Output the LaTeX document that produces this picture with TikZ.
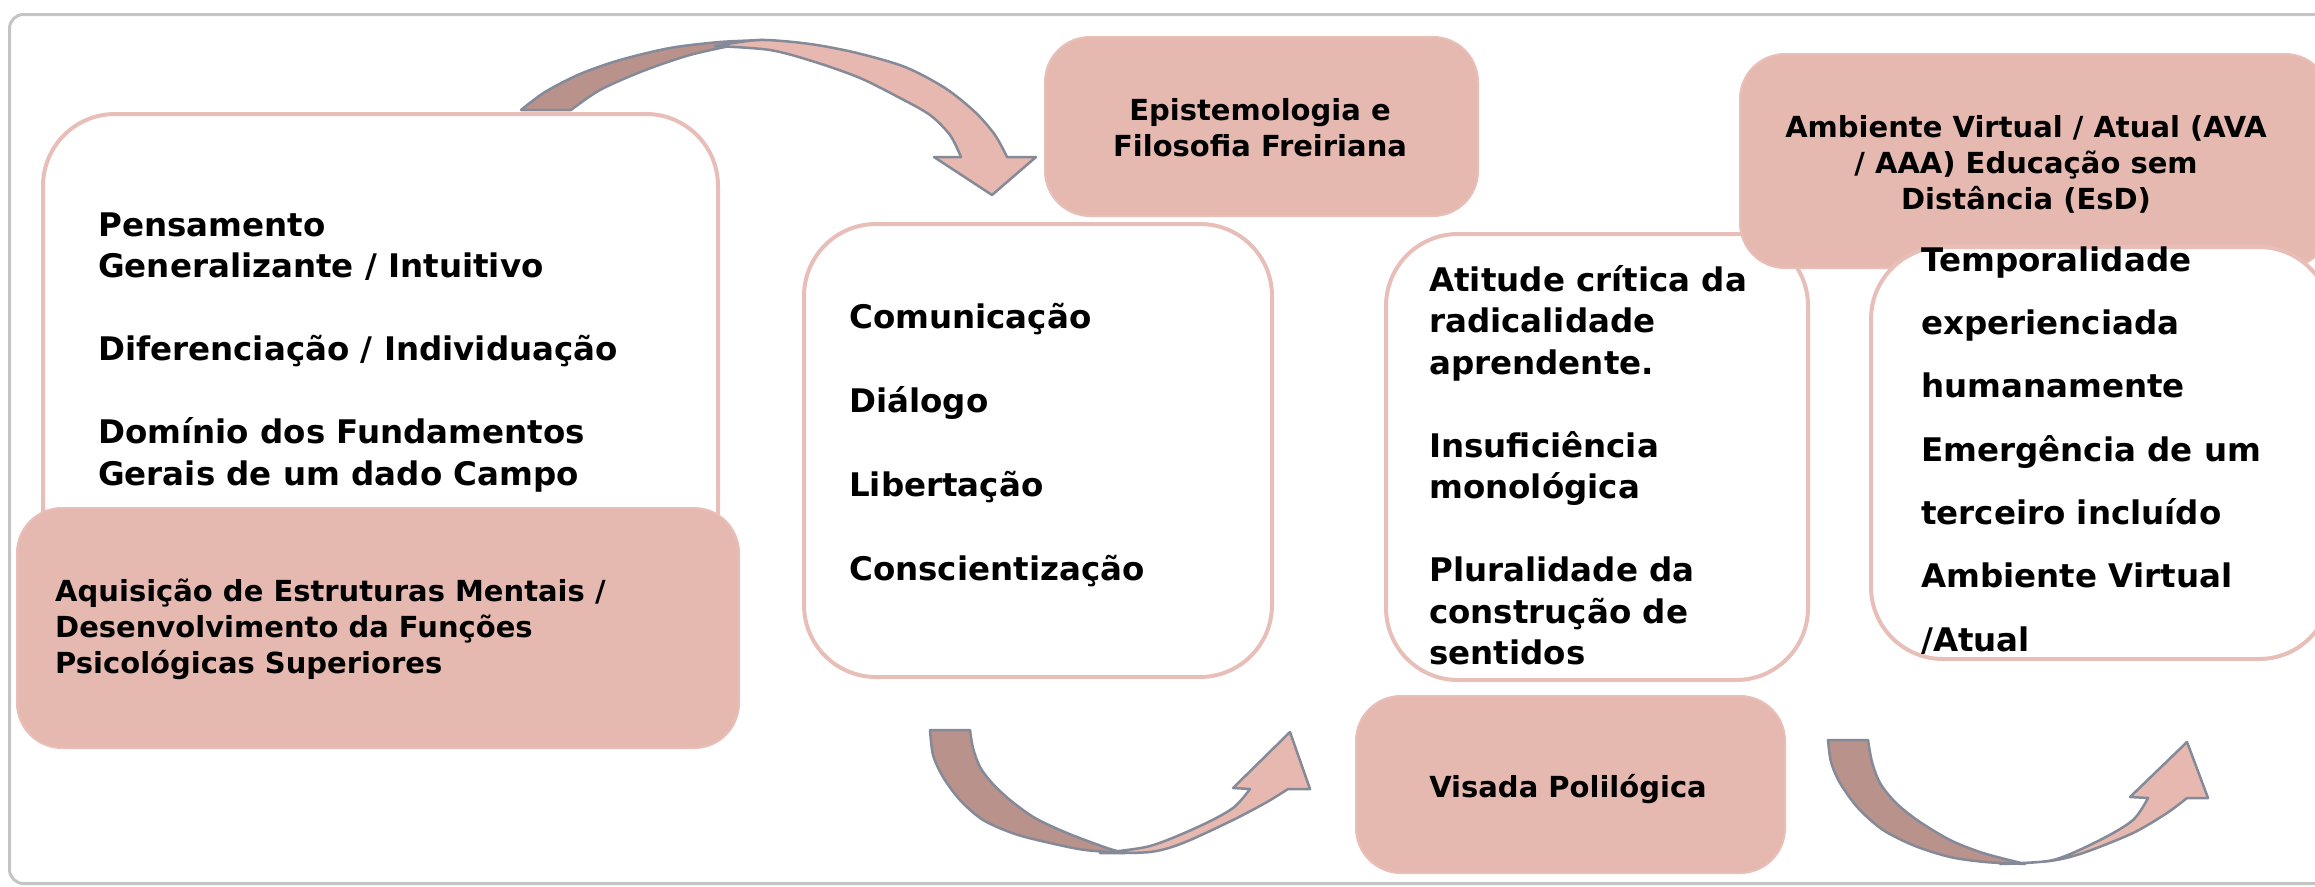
\documentclass[tikz,border=0pt]{standalone}
\usepackage{fontspec}
\setmainfont{DejaVu Sans}
\definecolor{pinkfill}{HTML}{E6B9B0}
\definecolor{pinkline}{HTML}{E8BFB8}
\definecolor{arrdark}{HTML}{B8928B}
\definecolor{arrlight}{HTML}{E6B8AF}
\definecolor{arrline}{HTML}{858A99}
\definecolor{framegray}{HTML}{C4C4C4}
\begin{document}
\begin{tikzpicture}[x=1pt,y=-1pt,
  whitebox/.style={draw=pinkline, line width=4pt, fill=white, rounded corners=72pt, rectangle, anchor=north west, inner sep=0},
  pinkbox/.style={draw=pinkline, line width=2pt, fill=pinkfill, rounded corners=45pt, rectangle, anchor=north west, inner sep=0},
  btext/.style={font=\fontsize{32.5}{41.5}\selectfont\bfseries, align=left, inner sep=0, anchor=base west},
  ptext/.style={font=\fontsize{29}{36}\selectfont\bfseries, inner sep=0, anchor=base},
  arrowdark/.style={fill=arrdark, draw=arrline, line width=2.5pt, line join=round},
  arrowlight/.style={fill=arrlight, draw=arrline, line width=2.5pt, line join=round}]
\useasboundingbox (0,0) rectangle (2315,886);
% frame
\node[draw=framegray, line width=3pt, rounded corners=14pt, minimum width=2330pt, minimum height=869pt, anchor=north west, inner sep=0] (frame) at (8,13) {};
% box A
\node[whitebox, minimum width=675pt, minimum height=540pt] (A) at (41,112) {};
% arrow 1 (curved down arrow)
\draw[arrowdark] plot[smooth] coordinates {(521,110) (545,92) (580,74) (620,60) (670,48) (720,42) (765,40)}
  -- plot[smooth] coordinates {(765,40) (740,44) (690,55) (643,71) (600,90) (571,110)} -- cycle;
\draw[arrowlight] plot[smooth] coordinates {(715,46) (760,40) (810,44) (857,53) (905,67) (945,88) (975,112) (995,135) (1007,157)}
  -- (1036,157) -- (992,195) -- (934,157) -- (961,157)
  -- plot[smooth] coordinates {(961,157) (950,135) (930,115) (900,98) (860,78) (815,62) (770,50) (715,46)} -- cycle;
% box A2
\node[pinkbox, minimum width=722pt, minimum height=240pt] (A2) at (16,507) {};
% Epistemologia
\node[pinkbox, minimum width=433pt, minimum height=179pt] (Epi) at (1044,36) {};
% box B
\node[whitebox, minimum width=468pt, minimum height=453pt] (B) at (802,222) {};
% box C
\node[whitebox, minimum width=422pt, minimum height=446pt] (C) at (1384,232) {};
% Ambiente
\node[pinkbox, minimum width=590pt, minimum height=214pt] (Amb) at (1739,53) {};
% box D
\node[whitebox, minimum width=460pt, minimum height=412pt] (D) at (1869,245) {};
% Visada
\node[pinkbox, minimum width=429pt, minimum height=177pt] (Vis) at (1355,695) {};
% arrow 2
\draw[arrowdark] plot[smooth] coordinates {(930,730) (933,755) (943,777) (960,800) (983,820) (1015,834) (1050,843) (1085,850) (1125,853)}
  -- plot[smooth] coordinates {(1125,853) (1107,848) (1067,833) (1035,818) (1010,800) (992,783) (980,767) (973,748) (970,730)} -- cycle;
\draw[arrowlight] plot[smooth] coordinates {(1100,853) (1150,852) (1183,843) (1233,820) (1267,802) (1288,789)}
  -- (1310,789) -- (1290,732) -- (1233,788) -- (1250,789)
  -- plot[smooth] coordinates {(1250,789) (1233,808) (1200,826) (1150,846) (1100,853)} -- cycle;
% arrow 3
\draw[arrowdark] plot[smooth] coordinates {(1828,740) (1831,762) (1840,783) (1858,808) (1883,830) (1915,846) (1950,857) (1985,862) (2025,864)}
  -- plot[smooth] coordinates {(2025,864) (1983,853) (1950,840) (1917,820) (1895,802) (1880,783) (1872,762) (1868,740)} -- cycle;
\draw[arrowlight] plot[smooth] coordinates {(2000,864) (2050,861) (2083,853) (2133,833) (2167,813) (2187,798)}
  -- (2208,798) -- (2187,742) -- (2130,797) -- (2148,798)
  -- plot[smooth] coordinates {(2148,798) (2133,820) (2100,840) (2053,860) (2000,864)} -- cycle;
% texts (anchor base = baseline of the last line)
\node[btext] (tA) at (98,485) {Pensamento\\Generalizante / Intuitivo\\[41.5pt]Diferenciação / Individuação\\[41.5pt]Domínio dos Fundamentos\\Gerais de um dado Campo};
\node[ptext, anchor=base west, align=left] (tA2) at (55,673) {Aquisição de Estruturas Mentais /\\Desenvolvimento da Funções\\Psicológicas Superiores};
\node[ptext, align=center] (tEpi) at (1260,156) {Epistemologia e\\Filosofia Freiriana};
\node[btext, font=\fontsize{32.5}{42}\selectfont\bfseries] (tB) at (849,580) {Comunicação\\[42pt]Diálogo\\[42pt]Libertação\\[42pt]Conscientização};
\node[btext] (tC) at (1429,664.5) {Atitude crítica da\\radicalidade\\aprendente.\\[41.5pt]Insuficiência\\monológica\\[41.5pt]Pluralidade da\\construção de\\sentidos};
\node[ptext, align=center] (tAmb) at (2026,209) {Ambiente Virtual / Atual (AVA\\/ AAA) Educação sem\\Distância (EsD)};
\node[btext, font=\fontsize{32.5}{63.3}\selectfont\bfseries] (tD) at (1921,651) {Temporalidade\\experienciada\\humanamente\\Emergência de um\\terceiro incluído\\Ambiente Virtual\\/Atual};
\node[ptext] (tV) at (1568,797) {Visada Polilógica};
\end{tikzpicture}
\end{document}
